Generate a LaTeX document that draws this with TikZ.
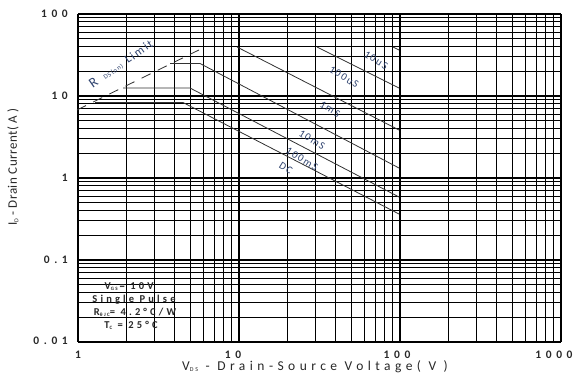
\documentclass[tikz,border=0pt]{standalone}
\usepackage{fontspec}
\setmainfont{Carlito}
\newfontfamily\tickfont[LetterSpace=40]{Carlito}
\newfontfamily\axfont[LetterSpace=33]{Carlito}
\newfontfamily\yaxfont[LetterSpace=4]{Carlito}
\newfontfamily\boxfont[LetterSpace=30]{Carlito}
\newfontfamily\curvefont[LetterSpace=15]{Carlito}
\definecolor{txt}{RGB}{40,40,40}
\definecolor{lbl}{RGB}{48,68,112}
\definecolor{crv}{RGB}{50,50,50}
\begin{document}
\begin{tikzpicture}[x=1pt,y=-1pt,
  grid/.style={black,line width=1.1pt},
  curve/.style={crv,line width=0.8pt},
  rdsline/.style={crv,line width=0.8pt,dash pattern=on 10pt off 8pt},
  ytick/.style={anchor=east,inner sep=0pt,text=txt,font=\tickfont\bfseries\fontsize{11.5}{13}\selectfont},
  xtick/.style={anchor=center,inner sep=0pt,text=txt,font=\tickfont\bfseries\fontsize{11.5}{13}\selectfont},
  boxtxt/.style={anchor=center,inner sep=0pt,text=txt,font=\boxfont\bfseries\fontsize{10.5}{12}\selectfont},
  clabel/.style={anchor=center,inner sep=0pt,text=lbl,rotate=-32,font=\curvefont\fontsize{10.5}{11}\selectfont}]
\useasboundingbox (0,0) rectangle (574,379);
\fill[white] (0,0) rectangle (574,379);
% grid
\foreach \d in {0,1,2}{
  \foreach \k in {1,...,9}{
    \pgfmathsetmacro\xx{78+161*(\d+log10(\k))}
    \draw[grid] (\xx,14) -- (\xx,342);
  }
}
\draw[grid] (561,14) -- (561,342);
\foreach \d in {0,1,2,3}{
  \foreach \k in {1,...,9}{
    \pgfmathsetmacro\yy{342-82*(\d+log10(\k))}
    \draw[grid] (78,\yy) -- (561,\yy);
  }
}
\draw[grid] (78,14) -- (561,14);
% curve points
\coordinate (rA) at (77,110);
\coordinate (rB) at (205,47);
\coordinate (dc1) at (95,102.5);
\coordinate (dc2) at (183,102.5);
\coordinate (dc3) at (399,214);
\coordinate (c1) at (123,88);
\coordinate (c2) at (190,88);
\coordinate (c3) at (399,197);
\coordinate (b1) at (170,63.5);
\coordinate (b2) at (200,63.5);
\coordinate (b3) at (399,168);
\coordinate (a1) at (237,47);
\coordinate (a2) at (399,130);
\coordinate (u1) at (317,47);
\coordinate (u2) at (399,88);
\coordinate (s1) at (393,47);
\coordinate (s2) at (399,50);
\draw[rdsline] (rA) -- (rB);
\draw[curve,line width=1.4pt] (dc1) -- (dc2);
\draw[curve] (dc2) -- (dc3);
\draw[curve] (c1) -- (c2) -- (c3);
\draw[curve] (b1) -- (b2) -- (b3);
\draw[curve] (a1) -- (a2);
\draw[curve] (u1) -- (u2);
\draw[curve] (s1) -- (s2);
% curve labels
\node[clabel] (l10us) at (376,60) {10uS};
\node[clabel] (l100us) at (344,77) {100uS};
\node[clabel] (l1ms) at (330,109) {1mS};
\node[clabel] (l10ms) at (312,140) {10mS};
\node[clabel] (l100ms) at (302,159) {100mS};
\node[clabel] (ldc) at (286,168) {DC};
\node[anchor=center,inner sep=0pt,text=lbl,rotate=35] (lrds) at (121,64)
  {\curvefont\fontsize{14}{14}\selectfont R\ \,{\fontsize{6.5}{7}\selectfont DS(on)}\ {\fontsize{12}{12}\selectfont Limit}};
% y ticks
\node[ytick] (y100) at (68,14) {100};
\node[ytick] (y10) at (68,96) {10};
\node[ytick] (y1) at (68,178) {1};
\node[ytick] (y01) at (68,260) {0.1};
\node[ytick] (y001) at (68,341) {0.01};
% x ticks
\node[xtick] (x1) at (78,355) {1};
\node[xtick] (x10) at (233,355) {10};
\node[xtick] (x100) at (397,355) {100};
\node[xtick] (x1000) at (554,355) {1000};
% axis labels
\node[anchor=center,inner sep=0pt,text=txt] (xlab) at (315,367)
  {\axfont\fontsize{13.5}{14}\selectfont V\raisebox{-1pt}{\fontsize{6}{6}\selectfont DS}\ - Drain-Source Voltage( V )};
\node[anchor=center,inner sep=0pt,text=txt,rotate=90] (ylab) at (13,167)
  {\yaxfont\fontsize{13}{14}\selectfont I\raisebox{-1.5pt}{\fontsize{6}{6}\selectfont D}\ - Drain Current( A )};
% conditions box
\node[boxtxt] (t1) at (129,287) {V\raisebox{-1pt}{\fontsize{5}{5}\selectfont GS}\,= 10V};
\node[boxtxt] (t2) at (134,300) {Single Pulse};
\node[boxtxt] (t3) at (135,312) {R\raisebox{-1pt}{\fontsize{5}{5}\selectfont θJC}= 4.2°C/W};
\node[boxtxt] (t4) at (131,325) {T\raisebox{-1pt}{\fontsize{5}{5}\selectfont C}\ = 25°C};
\end{tikzpicture}
\end{document}
